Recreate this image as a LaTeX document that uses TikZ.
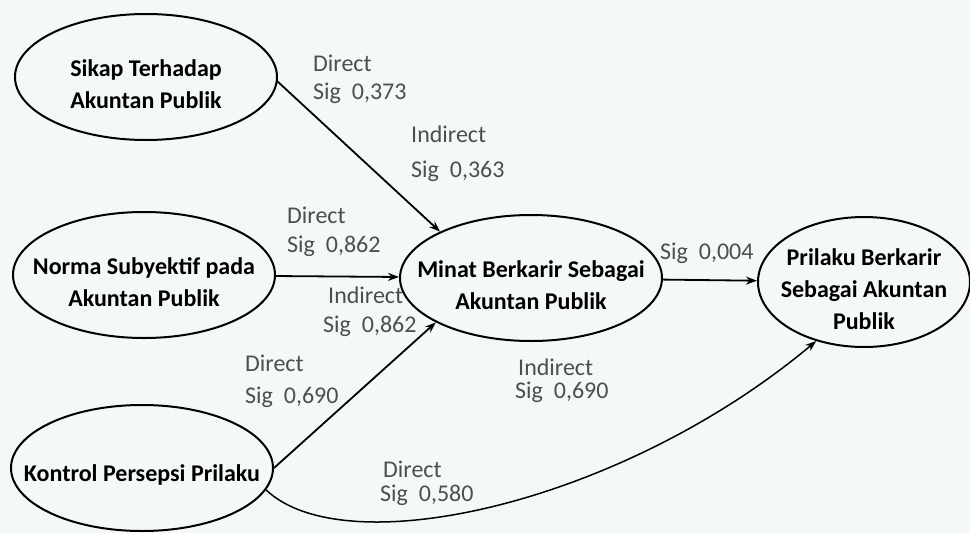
\documentclass[tikz,border=0pt]{standalone}
\usepackage{fontspec}
\setmainfont{Carlito}
\usetikzlibrary{shapes.geometric,arrows.meta}
\definecolor{bgcol}{RGB}{244,248,249}
\definecolor{labcol}{RGB}{78,78,78}
\newcommand{\vstrut}{\rule{0pt}{31pt}}
\tikzset{var/.style={ellipse,draw,line width=2pt,inner xsep=-30pt,inner ysep=-12pt,align=center,
    font=\bfseries\fontsize{24}{32}\selectfont,minimum width=262pt,minimum height=126pt},
  sig/.style={anchor=west,align=left,text=labcol,inner sep=0pt,font=\fontsize{24}{#1}\selectfont},
  sig/.default=28,
  arr/.style={line width=1.8pt,-{Stealth[length=11pt,width=8pt]}}}

\begin{document}
\begin{tikzpicture}[x=1pt,y=-1pt]
    \fill[bgcol] (0,0) rectangle (970,533);
    \useasboundingbox (0,0) rectangle (970,533);
    \node[var] (sikap) at (146,77) {\vstrut Sikap Terhadap\\Akuntan Publik};
    \node[var] (norma) at (144,275) {\vstrut Norma Subyektif pada\\Akuntan Publik};
    \node[var] (kontrol) at (142,468) {\vstrut Kontrol Persepsi Prilaku};
    \node[var] (minat) at (531,278) {\vstrut Minat Berkarir Sebagai\\Akuntan Publik};
    \node[var,minimum width=212pt,minimum height=130pt] (prilaku) at (864,282)
      {\vstrut Prilaku Berkarir\\Sebagai Akuntan\\Publik};
    \node[sig] (s1) at (313,79) {Direct\\Sig\ \ 0,373};
    \node[sig=35] (s2) at (411,154) {Indirect\\Sig\ \ 0,363};
    \node[sig=29] (s3) at (287,232) {Direct\\Sig\ \ 0,862};
    \node[sig=29] (s4) at (323,312) {\hspace*{5pt}Indirect\\Sig\ \ 0,862};
    \node[sig=32] (s5) at (245,381) {Direct\\Sig\ \ 0,690};
    \node[sig=23] (s6) at (515,381) {\hspace*{3pt}Indirect\\Sig\ \ 0,690};
    \node[sig=24] (s7) at (380,483) {\hspace*{3pt}Direct\\Sig\ \ 0,580};
    \node[sig] (s8) at (660,253) {Sig\ \ 0,004};
    \draw[arr] (sikap.-2) -- (minat.153);
    \draw[arr] (norma) -- (minat);
    \draw[arr] (kontrol.east) -- (minat.205);
    \draw[arr] (minat) -- (prilaku);
    \draw[arr,line width=1.5pt] (kontrol.-10) .. controls (345,565) and (620,505) .. (prilaku.231);
\end{tikzpicture}
\end{document}
